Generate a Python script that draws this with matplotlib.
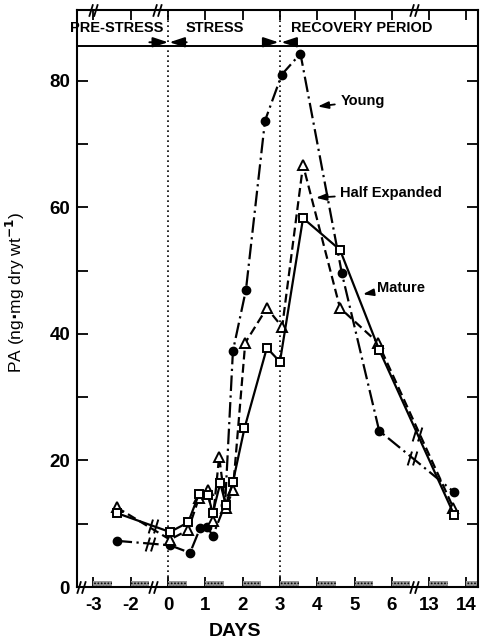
import numpy as np
import matplotlib.pyplot as plt
from matplotlib.path import Path
from matplotlib.patches import Rectangle

plt.rcParams['font.family'] = ['Liberation Sans', 'DejaVu Sans']
plt.rcParams['font.weight'] = 'bold'
plt.rcParams['hatch.linewidth'] = 0.8

young_days = [-2.38, 0.05, 0.59, 0.86, 1.05, 1.2, 1.53, 1.74, 2.09, 2.6, 3.05, 3.55, 4.66, 5.66, 13.67]
young_pa = [7.3, 6.6, 5.4, 9.3, 9.5, 8.1, 13.0, 37.3, 47.0, 73.7, 81.0, 84.3, 49.6, 24.7, 15.0]

half_days = [-2.38, 0.05, 0.54, 0.83, 1.07, 1.2, 1.37, 1.55, 1.74, 2.07, 2.65, 3.06, 3.62, 4.61, 5.63, 13.65]
half_pa = [12.6, 7.5, 9.0, 14.1, 15.4, 10.5, 20.6, 12.5, 15.3, 38.6, 44.1, 41.1, 66.7, 44.1, 38.6, 12.5]

mature_days = [-2.38, 0.05, 0.54, 0.83, 1.07, 1.2, 1.4, 1.55, 1.74, 2.05, 2.65, 3.0, 3.62, 4.61, 5.66, 13.67]
mature_pa = [11.7, 8.7, 10.2, 14.7, 14.5, 11.7, 16.4, 13.0, 16.6, 25.1, 37.8, 35.6, 58.3, 53.3, 37.5, 11.4]

tick_days = [-3, -2, 0, 1, 2, 3, 4, 5, 6, 13, 14]
phases = ['PRE-STRESS', 'STRESS', 'RECOVERY PERIOD']


def pos(d):
    # broken time axis: -3..-2 | 0..6 | 13..14
    d = np.asarray(d, dtype=float)
    return np.where(d <= -2, d + 1, np.where(d >= 13, d - 6, d))


# marker for the // breaks
brk = Path([(-0.9, -1.3), (-0.1, 1.3), (0.1, -1.3), (0.9, 1.3)],
           [Path.MOVETO, Path.LINETO, Path.MOVETO, Path.LINETO])

fig = plt.figure(figsize=(4.83, 6.43), dpi=100)
ax = fig.add_axes([77/483, 56/643, 401/483, 577/643])

ax.plot(pos(young_days), young_pa, color='black', lw=1.6, dashes=[7, 2, 1, 2],
        marker='o', ms=6, mfc='black', zorder=3)
ax.plot(pos(half_days), half_pa, color='black', lw=1.6, dashes=[4, 2],
        marker='^', ms=6.5, mfc='white', mew=1.4, zorder=3)
ax.plot(pos(mature_days), mature_pa, color='black', lw=1.6,
        marker='s', ms=5.5, mfc='white', mew=1.4, zorder=4)

# break marks on the lines
for days, vals, bl, br in [(young_days, young_pa, -0.49, 6.55),
                           (mature_days, mature_pa, -0.4, 6.68)]:
    px = pos(days)
    for b in (bl, br):
        ax.plot([b], [np.interp(b, px, vals)], marker=brk, ms=10, mew=1.4,
                color='black', zorder=5)

# break marks on the axes
for b in (-2.32, -0.4, 6.6):
    ax.plot([b], [0], marker=brk, ms=9, mew=1.3, color='black', clip_on=False, zorder=6)
for b in (-2.0, -0.3, 6.6):
    ax.plot([b], [91.2], marker=brk, ms=9, mew=1.3, color='black', clip_on=False, zorder=6)

# dark periods (stippled bars) along the time axis
for t in pos(tick_days):
    ax.add_patch(Rectangle((t, 0), 0.5, 0.9, facecolor='#999999', edgecolor='black',
                           hatch='.....', lw=0, zorder=2))

# stress phase boundaries
for t in (0, 3):
    ax.axvline(t, color='black', ls=(0, (1, 2)), lw=1.2, zorder=1)

# header band
ax.axhline(85.5, color='black', lw=1.4)
ax.text(-1.37, 88.3, phases[0], ha='center', va='center', fontsize=10.5)
ax.text(1.25, 88.3, phases[1], ha='center', va='center', fontsize=10.5)
ax.text(5.2, 88.3, phases[2], ha='center', va='center', fontsize=10.5)
arr = dict(arrowstyle='-|>,head_length=0.9,head_width=0.3', color='black', lw=1.4,
           shrinkA=0, shrinkB=0)
ax.annotate('', xy=(0, 86.1), xytext=(-0.5, 86.1), arrowprops=arr)
ax.annotate('', xy=(0.04, 86.1), xytext=(0.5, 86.1), arrowprops=arr)
ax.annotate('', xy=(2.96, 86.1), xytext=(2.55, 86.1), arrowprops=arr)
ax.annotate('', xy=(3.04, 86.1), xytext=(3.4, 86.1), arrowprops=arr)

# series labels
lab = dict(arrowstyle='-|>,head_length=0.6,head_width=0.2', color='black', lw=1.3)
ax.annotate('Young', xy=(3.94, 75.9), xytext=(4.62, 76.8), va='center', fontsize=10.5, arrowprops=lab)
ax.annotate('Half Expanded', xy=(3.89, 61.5), xytext=(4.62, 62.3), va='center', fontsize=10.5, arrowprops=lab)
ax.annotate('Mature', xy=(5.15, 46.2), xytext=(5.6, 47.3), va='center', fontsize=10.5, arrowprops=lab)

ax.set_xlim(-2.44, 8.31)
ax.set_ylim(0, 91.2)
ax.set_xticks(pos(tick_days))
ax.set_xticklabels([str(d) for d in tick_days])
ax.set_yticks([0, 20, 40, 60, 80])
ax.set_yticks([10, 30, 50, 70], minor=True)
ax.tick_params(axis='y', which='both', direction='in', right=True, length=8, width=1.3,
               labelsize=13.5, pad=5)
ax.tick_params(axis='x', direction='in', top=True, length=7, width=1.3, labelsize=13.5, pad=7)
for s in ax.spines.values():
    s.set_linewidth(1.5)

ax.set_ylabel('PA (ng$\\cdot$mg dry wt$^{-1}$)', fontsize=12.5)
ax.yaxis.set_label_coords(-0.125, 0.51)
fig.text(235/483, 1 - 631/643, 'DAYS', ha='center', va='center', fontsize=14)

fig.savefig('out.png', dpi=100)
